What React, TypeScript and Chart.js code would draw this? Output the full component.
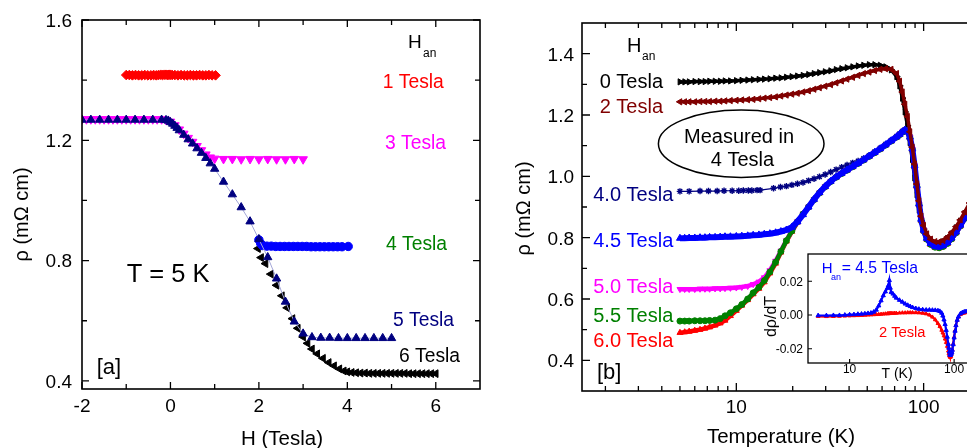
import React, { useEffect, useRef } from "react";
import { Chart, registerables } from "chart.js";

Chart.register(...registerables);

const FONT = '"Liberation Sans", Arial, Helvetica, sans-serif';

// ================= Panel [a] : rho vs H at T = 5 K =================
const a_1T_H = [-1.0, -0.93, -0.86, -0.79, -0.72, -0.65, -0.58, -0.51, -0.44, -0.38, -0.32, -0.27, -0.22, -0.18, -0.14, -0.1, -0.06, -0.03, 0.0, 0.04, 0.1, 0.17, 0.24, 0.31, 0.38, 0.45, 0.52, 0.59, 0.66, 0.73, 0.8, 0.87, 0.94, 1.02];
const a_1T_rho = [1.417, 1.417, 1.416, 1.417, 1.416, 1.416, 1.417, 1.416, 1.416, 1.417, 1.416, 1.417, 1.418, 1.417, 1.418, 1.418, 1.417, 1.418, 1.418, 1.417, 1.417, 1.416, 1.417, 1.416, 1.416, 1.417, 1.416, 1.416, 1.417, 1.416, 1.416, 1.417, 1.416, 1.416];

const a_3T_H = [-2.0, -1.9, -1.8, -1.7, -1.6, -1.5, -1.4, -1.3, -1.2, -1.1, -1.0, -0.9, -0.8, -0.7, -0.6, -0.5, -0.4, -0.3, -0.2, -0.1, 0.0, 0.1, 0.2, 0.3, 0.4, 0.5, 0.6, 0.7, 0.8, 0.9, 1.0, 1.2, 1.4, 1.6, 1.8, 2.0, 2.2, 2.4, 2.6, 2.8, 3.0];
const a_3T_rho = [1.27, 1.27, 1.27, 1.27, 1.27, 1.27, 1.27, 1.27, 1.27, 1.27, 1.27, 1.27, 1.27, 1.27, 1.27, 1.27, 1.27, 1.27, 1.27, 1.268, 1.262, 1.25, 1.236, 1.222, 1.208, 1.195, 1.181, 1.167, 1.153, 1.143, 1.139, 1.138, 1.138, 1.137, 1.138, 1.137, 1.138, 1.137, 1.137, 1.138, 1.137];

const a_4T_H = [2.0, 2.04, 2.08, 2.18, 2.28, 2.38, 2.48, 2.58, 2.68, 2.78, 2.88, 2.98, 3.08, 3.18, 3.28, 3.38, 3.48, 3.58, 3.68, 3.78, 3.88, 4.02];
const a_4T_rho = [0.869, 0.857, 0.85, 0.848, 0.848, 0.847, 0.847, 0.847, 0.847, 0.847, 0.847, 0.847, 0.847, 0.846, 0.846, 0.846, 0.846, 0.846, 0.846, 0.846, 0.846, 0.847];

const a_5T_H = [-2.0, -1.8, -1.6, -1.4, -1.2, -1.0, -0.8, -0.6, -0.4, -0.2, -0.1, -0.05, 0.0, 0.05, 0.1, 0.15, 0.2, 0.3, 0.4, 0.5, 0.6, 0.7, 0.8, 0.9, 1.0, 1.2, 1.4, 1.6, 1.8, 2.0, 2.2, 2.4, 2.6, 2.8, 3.0, 3.2, 3.4, 3.6, 3.8, 4.0, 4.2, 4.4, 4.6, 4.8, 5.0];
const a_5T_rho = [1.268, 1.268, 1.268, 1.268, 1.268, 1.268, 1.268, 1.268, 1.268, 1.268, 1.267, 1.265, 1.26, 1.255, 1.248, 1.241, 1.233, 1.218, 1.203, 1.189, 1.173, 1.158, 1.141, 1.123, 1.105, 1.062, 1.02, 0.977, 0.93, 0.871, 0.811, 0.74, 0.663, 0.597, 0.557, 0.545, 0.543, 0.543, 0.542, 0.542, 0.542, 0.542, 0.542, 0.542, 0.542];

const a_6T_H = [1.98, 2.05, 2.15, 2.27, 2.4, 2.52, 2.64, 2.76, 2.88, 3.0, 3.1, 3.2, 3.32, 3.45, 3.58, 3.7, 3.82, 3.92, 4.0, 4.1, 4.2, 4.3, 4.4, 4.5, 4.6, 4.7, 4.8, 4.9, 5.0, 5.1, 5.2, 5.3, 5.4, 5.5, 5.6, 5.7, 5.8, 5.9, 6.0];
const a_6T_rho = [0.84, 0.81, 0.79, 0.755, 0.718, 0.683, 0.643, 0.607, 0.575, 0.546, 0.525, 0.506, 0.49, 0.475, 0.461, 0.45, 0.44, 0.433, 0.43, 0.428, 0.427, 0.426, 0.426, 0.425, 0.425, 0.425, 0.425, 0.425, 0.425, 0.425, 0.425, 0.425, 0.424, 0.424, 0.424, 0.424, 0.424, 0.424, 0.424];

const aXTicks = [-2, 0, 2, 4, 6];
const aXTickLabels = ["-2", "0", "2", "4", "6"];
const aXMinor = [-1, 1, 3, 5];
const aYTicks = [0.4, 0.8, 1.2, 1.6];
const aYTickLabels = ["0.4", "0.8", "1.2", "1.6"];
const aYMinor = [0.6, 1.0, 1.4];

// ================= Panel [b] : rho vs T =================
const bTemps = [5, 5.3, 5.6, 6, 6.4, 6.8, 7.2, 7.7, 8.2, 8.7, 9.3, 10, 10.7, 11.5, 12.3, 13.2, 14.1, 15.1, 16.2, 17.3, 18.5, 19.8, 21.2, 22.7, 24.3, 26, 27.8, 29.8, 31.9, 34.1, 36.5, 39, 41.8, 44.7, 47.8, 51.2, 54.8, 58.6, 62.7, 67.1, 71.8, 74.5, 77, 79.5, 82, 84.5, 87, 89.5, 92, 94.5, 97, 100, 104, 109, 115, 121, 127, 134, 141, 149, 157, 166, 176, 187, 200];

const b_0T = [1.308, 1.308, 1.308, 1.309, 1.309, 1.309, 1.31, 1.31, 1.31, 1.311,
  1.311, 1.312, 1.313, 1.314, 1.315, 1.316, 1.317, 1.318, 1.32, 1.321,
  1.323, 1.325, 1.327, 1.329, 1.332, 1.335, 1.338, 1.341, 1.344, 1.348,
  1.351, 1.354, 1.357, 1.36, 1.362, 1.364, 1.364, 1.362, 1.357, 1.347,
  1.325, 1.295, 1.255, 1.21, 1.165, 1.11, 1.055, 0.995, 0.94, 0.89,
  0.855, 0.828, 0.803, 0.789, 0.782, 0.781, 0.786, 0.797, 0.812, 0.832,
  0.854, 0.879, 0.908, 0.938, 0.972];
const b_2T = [1.243, 1.243, 1.243, 1.243, 1.244, 1.244, 1.244, 1.245, 1.245, 1.246,
  1.247, 1.248, 1.249, 1.25, 1.251, 1.253, 1.255, 1.257, 1.259, 1.262,
  1.265, 1.268, 1.271, 1.275, 1.279, 1.284, 1.289, 1.294, 1.299, 1.305,
  1.311, 1.317, 1.323, 1.329, 1.335, 1.34, 1.345, 1.349, 1.351, 1.349,
  1.335, 1.31, 1.275, 1.235, 1.195, 1.145, 1.095, 1.04, 0.975, 0.92,
  0.87, 0.84, 0.812, 0.795, 0.787, 0.786, 0.791, 0.802, 0.817, 0.836,
  0.858, 0.884, 0.913, 0.943, 0.977];
// 4.0 Tesla: sparser readings at low T
const b40Temps = [5, 5.6, 6.4, 7.1, 7.9, 8.6, 9.5, 10.3, 10.9, 11.6, 12.1, 12.9, 13.4, 15.8, 17.2, 18.5, 19.8, 21.2, 22.7, 24.3, 26, 27.8, 29.8, 31.9, 34.1, 36.5, 39, 41.8, 44.7, 47.8, 51.2, 54.8, 58.6, 62.7, 67.1, 71.8, 74.5, 77, 79.5, 82, 84.5, 87, 89.5, 92, 94.5, 97, 100, 104, 109, 115, 121, 127, 134, 141, 149, 157, 166, 176, 187, 200];
const b_40T = [0.951, 0.951, 0.952, 0.952, 0.952, 0.953, 0.953, 0.953, 0.954, 0.954, 0.954, 0.955, 0.955, 0.961, 0.965,
  0.968, 0.972, 0.976, 0.98, 0.986, 0.992, 0.999, 1.006, 1.014, 1.022,
  1.03, 1.037, 1.044, 1.05, 1.058, 1.068, 1.08, 1.092, 1.105, 1.118,
  1.131, 1.139, 1.147, 1.153, 1.149, 1.13, 1.092, 1.037, 0.972, 0.912,
  0.862, 0.827, 0.8, 0.783, 0.774, 0.772, 0.776, 0.786, 0.801, 0.821,
  0.843, 0.868, 0.896, 0.926, 0.961];
const b_45T = [0.798, 0.798, 0.799, 0.799, 0.8, 0.8, 0.801, 0.801, 0.802, 0.803,
  0.803, 0.804, 0.805, 0.806, 0.808, 0.809, 0.811, 0.813, 0.816, 0.82,
  0.825, 0.834, 0.852, 0.875, 0.9, 0.925, 0.947, 0.967, 0.984, 0.998,
  1.01, 1.021, 1.032, 1.043, 1.054, 1.066, 1.078, 1.09, 1.103, 1.116,
  1.129, 1.137, 1.145, 1.151, 1.148, 1.128, 1.09, 1.035, 0.97, 0.91,
  0.86, 0.825, 0.798, 0.781, 0.772, 0.77, 0.774, 0.784, 0.799, 0.819,
  0.841, 0.866, 0.894, 0.924, 0.959];
const b_50T = [0.632, 0.632, 0.632, 0.632, 0.633, 0.633, 0.633, 0.634, 0.634, 0.635,
  0.636, 0.637, 0.639, 0.642, 0.648, 0.656, 0.67, 0.693, 0.724, 0.757,
  0.791, 0.823, 0.853, 0.878, 0.901, 0.925, 0.947, 0.967, 0.984, 0.998,
  1.01, 1.021, 1.032, 1.043, 1.054, 1.066, 1.078, 1.09, 1.103, 1.116,
  1.129, 1.137, 1.145, 1.151, 1.148, 1.128, 1.09, 1.035, 0.97, 0.91,
  0.86, 0.825, 0.798, 0.781, 0.772, 0.77, 0.774, 0.784, 0.799, 0.819,
  0.841, 0.866, 0.894, 0.924, 0.959];
const b_55T = [0.528, 0.528, 0.528, 0.529, 0.529, 0.529, 0.53, 0.531, 0.536, 0.545,
  0.555, 0.568, 0.582, 0.6, 0.62, 0.638, 0.66, 0.688, 0.72, 0.755,
  0.79, 0.822, 0.852, 0.877, 0.9, 0.924, 0.946, 0.966, 0.983, 0.997,
  1.009, 1.02, 1.031, 1.042, 1.053, 1.065, 1.077, 1.089, 1.102, 1.115,
  1.128, 1.136, 1.144, 1.15, 1.146, 1.125, 1.087, 1.032, 0.967, 0.907,
  0.857, 0.822, 0.795, 0.778, 0.769, 0.767, 0.771, 0.781, 0.796, 0.816,
  0.838, 0.863, 0.891, 0.921, 0.956];
const b_60T = [0.49, 0.492, 0.494, 0.497, 0.5, 0.504, 0.508, 0.514, 0.521, 0.53,
  0.545, 0.562, 0.579, 0.597, 0.616, 0.634, 0.655, 0.684, 0.716, 0.752,
  0.788, 0.82, 0.85, 0.876, 0.899, 0.923, 0.945, 0.965, 0.982, 0.996,
  1.008, 1.019, 1.03, 1.041, 1.052, 1.064, 1.076, 1.088, 1.101, 1.114,
  1.127, 1.135, 1.143, 1.149, 1.145, 1.124, 1.086, 1.031, 0.966, 0.906,
  0.856, 0.821, 0.794, 0.777, 0.768, 0.766, 0.77, 0.78, 0.795, 0.815,
  0.837, 0.862, 0.89, 0.92, 0.955];

const bXTicks = [10, 100];
const bXTickLabels = ["10", "100"];
const bXMinor = [2, 3, 4, 5, 6, 7, 8, 9, 20, 30, 40, 50, 60, 70, 80, 90, 200];
const bYTicks = [0.4, 0.6, 0.8, 1.0, 1.2, 1.4];
const bYTickLabels = ["0.4", "0.6", "0.8", "1.0", "1.2", "1.4"];
const bYMinor = [0.5, 0.7, 0.9, 1.1, 1.3];

// ================= Inset : d rho / dT =================
const insetTemps = [5, 6, 7, 8, 9, 10, 11, 12, 13, 14, 15, 16, 17, 18, 19, 20, 21, 22, 23, 23.5, 24, 24.5, 25, 26, 27, 28, 30, 32, 34, 36, 38, 40, 43, 46, 50, 54, 58, 62, 66, 70, 73, 76, 78, 80, 82, 84, 86, 88, 89, 90, 91, 92, 93, 94, 95, 96, 98, 100, 102, 104, 107, 110, 115, 120, 125, 130, 140, 150];
const inset_45T = [-0.0003, -0.0003, -0.0002, -0.0002, 0, 0.0002, 0.0003, 0.0005, 0.0006, 0.0008, 0.001, 0.0012, 0.0018, 0.003, 0.0055, 0.0085, 0.0115, 0.0138, 0.016,
  0.0175, 0.0205, 0.016, 0.0135, 0.0125, 0.0112, 0.0101,
  0.0088, 0.0077, 0.0066, 0.0058, 0.0051, 0.0045, 0.0039, 0.0035, 0.0032, 0.003,
  0.003, 0.0029, 0.0028, 0.0026, 0.0022,
  0.0012, -0.0005, -0.0028, -0.0055, -0.009, -0.013, -0.0172,
  -0.0195, -0.0218, -0.0233, -0.0238, -0.0235, -0.0228, -0.022, -0.0208,
  -0.0175, -0.0135, -0.0095, -0.0062, -0.003, -0.001,
  0.0008, 0.0015, 0.0019, 0.0021, 0.0023, 0.0024];
const inset_2T = [-0.0008, -0.0009, -0.0008, -0.0007, -0.0006, -0.0005, -0.0004, -0.0003, -0.0002, -0.0001, 0, 0.0001, 0.0002, 0.0003, 0.0004, 0.0005, 0.0006, 0.0007, 0.0008,
  0.0008, 0.0009, 0.0009, 0.001, 0.001, 0.0011, 0.0011,
  0.0012, 0.0013, 0.0013, 0.0014, 0.0014, 0.0014, 0.0014, 0.0013, 0.0011, 0.0007,
  0, -0.0012, -0.0028, -0.005, -0.0068,
  -0.009, -0.0106, -0.0123, -0.0142, -0.0162, -0.0185, -0.0213,
  -0.0228, -0.024, -0.0248, -0.025, -0.0245, -0.0235, -0.0222, -0.0205,
  -0.017, -0.013, -0.0092, -0.006, -0.003, -0.0012,
  0.0003, 0.0009, 0.0012, 0.0014, 0.0015, 0.0016];

const insetXTicks = [10, 100];
const insetXTickLabels = ["10", "100"];
const insetYTicks = [-0.02, 0, 0.02];
const insetYTickLabels = ["-0.02", "0.00", "0.02"];

// ================= helpers =================
const pts = (xs: number[], ys: number[]) => xs.map((x, i) => ({ x, y: ys[i] }));

type Ticks = { major: number[]; minor: number[]; majorLen: number; minorLen: number; mirror: boolean };
type Labels = { values: number[]; texts: string[]; size: number; at: number };
type Ann = { text: string; x: number; y: number; size: number; color?: string; align?: CanvasTextAlign; rotate?: boolean };
type Decor = {
  offX: number;
  offY: number;
  borderWidth: number;
  tickWidth: number;
  whiteBg?: boolean;
  x: Ticks;
  y: Ticks;
  xl: Labels;
  yl: Labels;
  anns: Ann[];
  ellipse?: { cx: number; cy: number; rx: number; ry: number; w: number };
};

function decorPlugin(d: Decor) {
  return {
    id: "decor",
    beforeDatasetsDraw(chart: any) {
      if (!d.whiteBg) return;
      const { ctx, chartArea: ca } = chart;
      ctx.save();
      ctx.fillStyle = "#fff";
      ctx.fillRect(ca.left, ca.top, ca.right - ca.left, ca.bottom - ca.top);
      ctx.restore();
    },
    afterDraw(chart: any) {
      const { ctx, chartArea: ca } = chart;
      const xs = chart.scales.x;
      const ys = chart.scales.y;
      ctx.save();
      ctx.strokeStyle = "#000";
      ctx.lineWidth = d.tickWidth;
      ctx.beginPath();
      const xt = d.x;
      ([[xt.major, xt.majorLen], [xt.minor, xt.minorLen]] as [number[], number][]).forEach(([vals, len]) => {
        vals.forEach((v) => {
          const p = xs.getPixelForValue(v);
          ctx.moveTo(p, ca.bottom);
          ctx.lineTo(p, ca.bottom - len);
          if (xt.mirror) {
            ctx.moveTo(p, ca.top);
            ctx.lineTo(p, ca.top + len);
          }
        });
      });
      const yt = d.y;
      ([[yt.major, yt.majorLen], [yt.minor, yt.minorLen]] as [number[], number][]).forEach(([vals, len]) => {
        vals.forEach((v) => {
          const p = ys.getPixelForValue(v);
          ctx.moveTo(ca.left, p);
          ctx.lineTo(ca.left + len, p);
          if (yt.mirror) {
            ctx.moveTo(ca.right, p);
            ctx.lineTo(ca.right - len, p);
          }
        });
      });
      ctx.stroke();
      ctx.lineWidth = d.borderWidth;
      ctx.strokeRect(ca.left, ca.top, ca.right - ca.left, ca.bottom - ca.top);

      ctx.fillStyle = "#000";
      ctx.textBaseline = "alphabetic";
      ctx.font = `${d.xl.size}px ${FONT}`;
      ctx.textAlign = "center";
      d.xl.values.forEach((v, i) => ctx.fillText(d.xl.texts[i], xs.getPixelForValue(v), d.xl.at - d.offY));
      ctx.font = `${d.yl.size}px ${FONT}`;
      ctx.textAlign = "right";
      d.yl.values.forEach((v, i) =>
        ctx.fillText(d.yl.texts[i], d.yl.at - d.offX, ys.getPixelForValue(v) + 0.36 * d.yl.size)
      );

      if (d.ellipse) {
        const e = d.ellipse;
        ctx.lineWidth = e.w;
        ctx.beginPath();
        ctx.ellipse(e.cx - d.offX, e.cy - d.offY, e.rx, e.ry, 0, 0, Math.PI * 2);
        ctx.stroke();
      }

      d.anns.forEach((a) => {
        ctx.font = `${a.size}px ${FONT}`;
        ctx.fillStyle = a.color || "#000";
        if (a.rotate) {
          ctx.save();
          ctx.translate(a.x - d.offX, a.y - d.offY);
          ctx.rotate(-Math.PI / 2);
          ctx.textAlign = "center";
          ctx.textBaseline = "middle";
          ctx.fillText(a.text, 0, 0);
          ctx.restore();
        } else {
          ctx.textAlign = a.align || "left";
          ctx.textBaseline = "alphabetic";
          ctx.fillText(a.text, a.x - d.offX, a.y - d.offY);
        }
      });
      ctx.restore();
    },
  };
}

const baseOpts = (padding: any, x: any, y: any) => ({
  responsive: false,
  animation: false as const,
  events: [] as any[],
  layout: { padding },
  plugins: { legend: { display: false }, tooltip: { enabled: false } },
  scales: { x: { ...x, display: false }, y: { ...y, display: false } },
});

function ds(label: string, data: any[], color: string, extra: any) {
  return {
    label,
    data,
    borderColor: color,
    backgroundColor: color,
    pointBackgroundColor: color,
    pointBorderColor: color,
    pointBorderWidth: 1,
    fill: false,
    tension: 0,
    pointHoverRadius: 0,
    ...extra,
  };
}

// ================= component =================
export default function App() {
  const refA = useRef<HTMLCanvasElement>(null);
  const refB = useRef<HTMLCanvasElement>(null);
  const refC = useRef<HTMLCanvasElement>(null);

  useEffect(() => {
    const charts: Chart[] = [];

    // ---- panel [a] ----
    charts.push(
      new Chart(refA.current as HTMLCanvasElement, {
        type: "scatter",
        data: {
          datasets: [
            ds("5 Tesla", pts(a_5T_H, a_5T_rho), "#000080", {
              showLine: true, borderColor: "#a3a6d8", borderWidth: 1, pointStyle: "triangle", pointRadius: 4.8, order: 1,
            }),
            ds("4 Tesla", pts(a_4T_H, a_4T_rho), "#0000ff", { pointStyle: "circle", pointRadius: 4.2, order: 2 }),
            ds("6 Tesla", pts(a_6T_H, a_6T_rho), "#000000", { pointStyle: "triangle", pointRotation: -90, pointRadius: 4.5, order: 3 }),
            ds("3 Tesla", pts(a_3T_H, a_3T_rho), "#ff00ff", { pointStyle: "triangle", pointRotation: 180, pointRadius: 5, order: 4 }),
            ds("1 Tesla", pts(a_1T_H, a_1T_rho), "#ff0000", { pointStyle: "rectRot", pointRadius: 4.8, order: 5 }),
          ] as any,
        },
        options: baseOpts(
          { left: 82, right: 10, top: 20, bottom: 59 },
          { type: "linear", min: -2, max: 7 },
          { type: "linear", min: 0.373, max: 1.6 }
        ) as any,
        plugins: [
          decorPlugin({
            offX: 0, offY: 0, borderWidth: 1.6, tickWidth: 1.3,
            x: { major: aXTicks, minor: aXMinor, majorLen: 7, minorLen: 5, mirror: true },
            y: { major: aYTicks, minor: aYMinor, majorLen: 7, minorLen: 5, mirror: true },
            xl: { values: aXTicks, texts: aXTickLabels, size: 19, at: 412 },
            yl: { values: aYTicks, texts: aYTickLabels, size: 19, at: 72 },
            anns: [
              { text: "H", x: 408, y: 48, size: 19 },
              { text: "an", x: 423, y: 56.5, size: 12 },
              { text: "1 Tesla", x: 382.7, y: 88, size: 19.3, color: "#ff0000" },
              { text: "3 Tesla", x: 385, y: 149.3, size: 19.3, color: "#ff00ff" },
              { text: "4 Tesla", x: 386, y: 250, size: 19.3, color: "#008000" },
              { text: "5 Tesla", x: 393, y: 326, size: 19.3, color: "#000080" },
              { text: "6 Tesla", x: 399, y: 361.7, size: 19.3, color: "#000000" },
              { text: "T = 5 K", x: 126.7, y: 281.7, size: 25.5 },
              { text: "[a]", x: 96.7, y: 373.7, size: 22 },
              { text: "\u03c1 (m\u03a9 cm)", x: 22.5, y: 214.5, size: 20, rotate: true },
              { text: "H (Tesla)", x: 282, y: 444.7, size: 20.5, align: "center" },
            ],
          }),
        ],
      })
    );

    // ---- panel [b] ----
    const bx = (vals: number[]) => pts(bTemps, vals);
    charts.push(
      new Chart(refB.current as HTMLCanvasElement, {
        type: "line",
        data: {
          datasets: [
            ds("2 Tesla", bx(b_2T), "#800000", { pointStyle: "triangle", pointRotation: -90, pointRadius: 3.6, borderWidth: 3.5, order: 0 }),
            ds("4.5 Tesla", bx(b_45T), "#0000ff", { pointStyle: "triangle", pointRadius: 4, borderWidth: 6, order: 1 }),
            ds("5.5 Tesla", bx(b_55T), "#008000", { pointStyle: "circle", pointRadius: 3, borderWidth: 4.5, order: 2 }),
            ds("5.0 Tesla", bx(b_50T), "#ff00ff", { pointStyle: "triangle", pointRotation: 180, pointRadius: 3.4, borderWidth: 4.5, order: 3 }),
            ds("6.0 Tesla", bx(b_60T), "#ff0000", { pointStyle: "triangle", pointRadius: 3.4, borderWidth: 4.5, order: 4 }),
            ds("4.0 Tesla", pts(b40Temps, b_40T), "#000080", { pointStyle: "star", pointRadius: 3.2, pointBorderWidth: 1.4, borderWidth: 1.2, order: 5 }),
            ds("0 Tesla", bx(b_0T), "#000000", { pointStyle: "triangle", pointRotation: 90, pointRadius: 3.6, borderWidth: 3.5, order: 6 }),
          ] as any,
        },
        options: baseOpts(
          { left: 102, right: 27, top: 23, bottom: 57 },
          { type: "logarithmic", min: 1.5, max: 300 },
          { type: "linear", min: 0.3, max: 1.5 }
        ) as any,
        plugins: [
          decorPlugin({
            offX: 480, offY: 0, borderWidth: 1.6, tickWidth: 1.3,
            x: { major: bXTicks, minor: bXMinor, majorLen: 8, minorLen: 5, mirror: true },
            y: { major: bYTicks, minor: bYMinor, majorLen: 8, minorLen: 5, mirror: false },
            xl: { values: bXTicks, texts: bXTickLabels, size: 19, at: 413 },
            yl: { values: bYTicks, texts: bYTickLabels, size: 19, at: 574 },
            ellipse: { cx: 741.2, cy: 143.7, rx: 82.8, ry: 33.7, w: 1.5 },
            anns: [
              { text: "H", x: 627, y: 52, size: 20 },
              { text: "an", x: 642, y: 60, size: 12 },
              { text: "0 Tesla", x: 663, y: 88, size: 20, align: "right", color: "#000000" },
              { text: "2 Tesla", x: 663, y: 112.7, size: 20, align: "right", color: "#800000" },
              { text: "Measured in", x: 739, y: 142.7, size: 20, align: "center" },
              { text: "4 Tesla", x: 742.5, y: 166, size: 20, align: "center" },
              { text: "4.0 Tesla", x: 673.3, y: 200.7, size: 20, align: "right", color: "#000080" },
              { text: "4.5 Tesla", x: 673.3, y: 246.7, size: 20, align: "right", color: "#0000ff" },
              { text: "5.0 Tesla", x: 673.3, y: 293.3, size: 20, align: "right", color: "#ff00ff" },
              { text: "5.5 Tesla", x: 673.3, y: 321.7, size: 20, align: "right", color: "#008000" },
              { text: "6.0 Tesla", x: 673.3, y: 346.7, size: 20, align: "right", color: "#ff0000" },
              { text: "[b]", x: 597, y: 378.7, size: 22 },
              { text: "\u03c1 (m\u03a9 cm)", x: 524, y: 208.5, size: 20, rotate: true },
              { text: "Temperature (K)", x: 781, y: 442.5, size: 20.5, align: "center" },
            ],
          }),
        ],
      })
    );

    // ---- inset ----
    charts.push(
      new Chart(refC.current as HTMLCanvasElement, {
        type: "line",
        data: {
          datasets: [
            ds("4.5 Tesla", pts(insetTemps, inset_45T), "#0000ff", { pointStyle: "triangle", pointRadius: 2.4, borderWidth: 2.2, order: 1 }),
            ds("2 Tesla", pts(insetTemps, inset_2T), "#ff0000", { pointStyle: "triangle", pointRadius: 2.1, borderWidth: 2.2, order: 2 }),
          ] as any,
        },
        options: baseOpts(
          { left: 68, right: 36, top: 14, bottom: 27 },
          { type: "logarithmic", min: 4, max: 300 },
          { type: "linear", min: -0.0284, max: 0.0361 }
        ) as any,
        plugins: [
          decorPlugin({
            offX: 740, offY: 240, borderWidth: 1.3, tickWidth: 1.1, whiteBg: true,
            x: { major: insetXTicks, minor: [], majorLen: 4, minorLen: 2, mirror: false },
            y: { major: insetYTicks, minor: [], majorLen: 4, minorLen: 2, mirror: false },
            xl: { values: insetXTicks, texts: insetXTickLabels, size: 12, at: 373 },
            yl: { values: insetYTicks, texts: insetYTickLabels, size: 12, at: 803 },
            anns: [
              { text: "H", x: 821.7, y: 273.3, size: 15, color: "#0000ff" },
              { text: "an", x: 831, y: 280, size: 9, color: "#0000ff" },
              { text: "= 4.5 Tesla", x: 841.7, y: 273.3, size: 15.7, color: "#0000ff" },
              { text: "2 Tesla", x: 879, y: 336.7, size: 14.7, color: "#ff0000" },
              { text: "d\u03c1/dT", x: 772, y: 316.5, size: 16, rotate: true },
              { text: "T (K)", x: 897, y: 377.7, size: 14, align: "center" },
            ],
          }),
        ],
      })
    );

    return () => charts.forEach((c) => c.destroy());
  }, []);

  const cv = (left: number, top: number, w: number, h: number): React.CSSProperties => ({
    position: "absolute",
    left,
    top,
    width: w,
    height: h,
    display: "block",
  });

  return (
    <div
      style={{
        position: "fixed",
        left: 0,
        top: 0,
        width: 967,
        height: 448,
        overflow: "hidden",
        background: "#fff",
      }}
    >
      <canvas ref={refA} width={490} height={448} style={cv(0, 0, 490, 448)} />
      <canvas ref={refB} width={560} height={448} style={cv(480, 0, 560, 448)} />
      <canvas ref={refC} width={300} height={150} style={cv(740, 240, 300, 150)} />
    </div>
  );
}
